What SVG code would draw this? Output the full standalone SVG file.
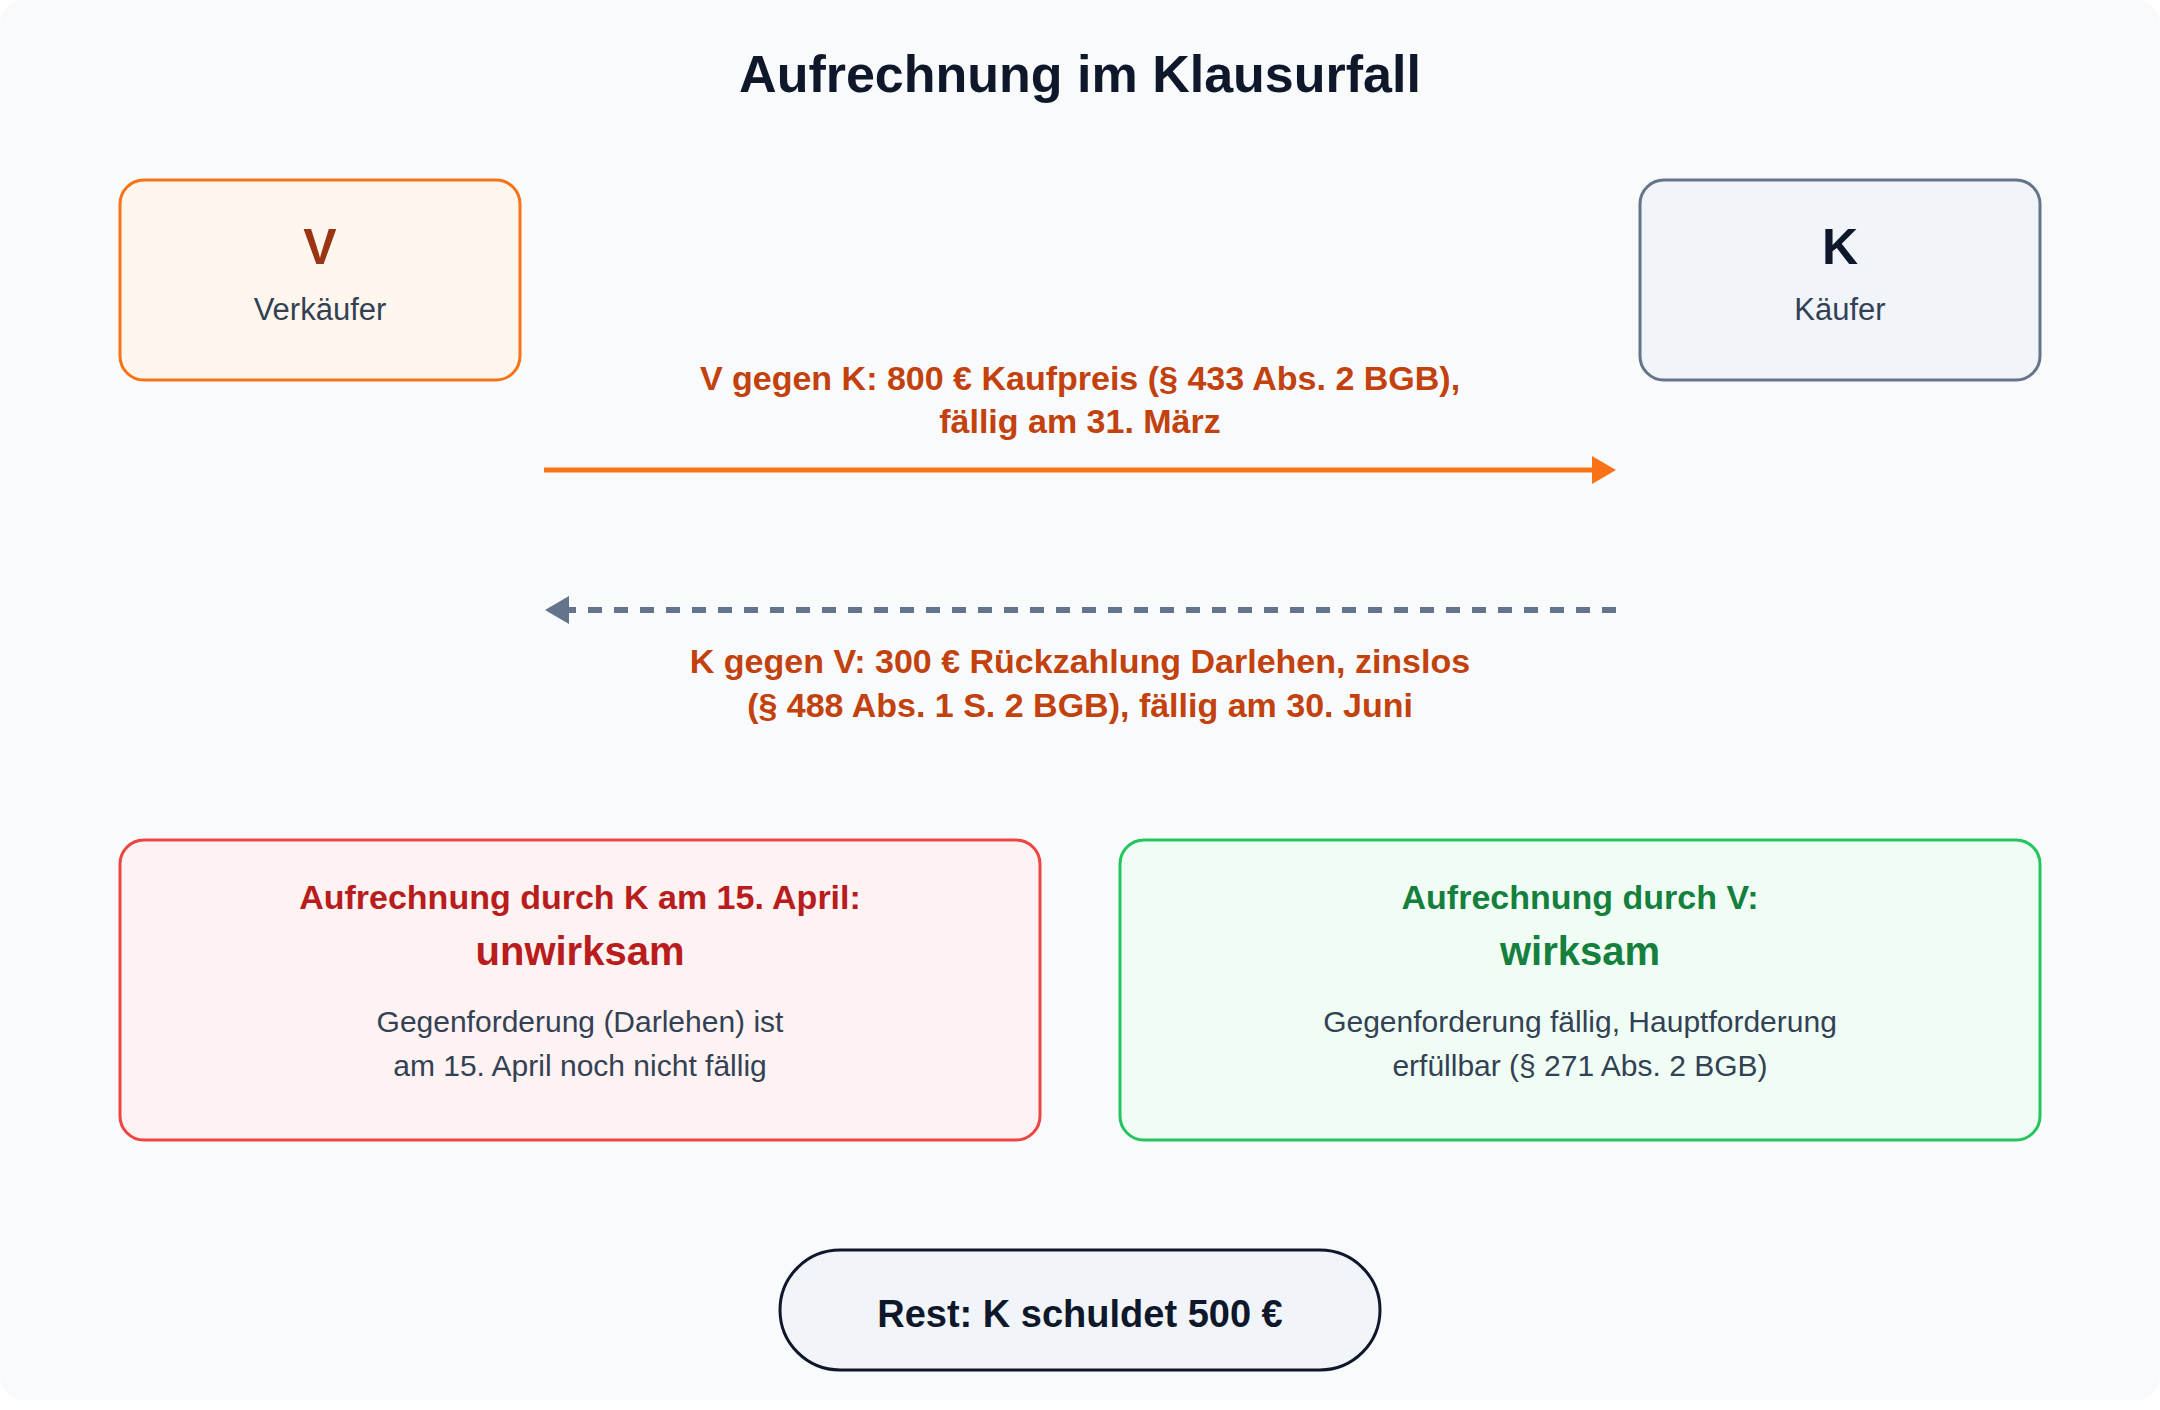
<svg xmlns="http://www.w3.org/2000/svg" width="2160" height="1410" viewBox="0 0 2160 1410">
  <style>
    text { font-family: "Liberation Sans", Arial, sans-serif; text-anchor: middle; }
    .title { font-size: 52px; font-weight: bold; fill: #0f172a; }
    .big { font-size: 50px; font-weight: bold; }
    .sub { font-size: 31px; fill: #334155; }
    .lbl { font-size: 34px; font-weight: bold; fill: #c2410c; }
    .head { font-size: 34px; font-weight: bold; }
    .verdict { font-size: 40px; font-weight: bold; }
    .body { font-size: 30px; fill: #334155; }
    .rest { font-size: 38px; font-weight: bold; fill: #0f172a; }
    .box { stroke-width: 3; }
  </style>
  <defs>
    <marker id="headOrange" markerUnits="userSpaceOnUse" markerWidth="24" markerHeight="28" viewBox="0 0 24 28" refX="1" refY="14" orient="auto">
      <path d="M0,0 L24,14 L0,28 z" fill="#f97316"/>
    </marker>
    <marker id="headSlate" markerUnits="userSpaceOnUse" markerWidth="24" markerHeight="28" viewBox="0 0 24 28" refX="1" refY="14" orient="auto">
      <path d="M0,0 L24,14 L0,28 z" fill="#64748b"/>
    </marker>
  </defs>

  <rect x="0" y="0" width="2160" height="1400" rx="24" fill="#f8fafc"/>
  <text class="title" x="1080" y="92">Aufrechnung im Klausurfall</text>

  <g id="node-V">
    <rect class="box" x="120" y="180" width="400" height="200" rx="24" fill="#fff7ed" stroke="#f97316"/>
    <text class="big" x="320" y="264" fill="#9a3412">V</text>
    <text class="sub" x="320" y="320">Verkäufer</text>
  </g>

  <g id="node-K">
    <rect class="box" x="1640" y="180" width="400" height="200" rx="24" fill="#f1f5f9" stroke="#64748b"/>
    <text class="big" x="1840" y="264" fill="#0f172a">K</text>
    <text class="sub" x="1840" y="320">Käufer</text>
  </g>

  <g id="connectors">
    <line x1="544" y1="470" x2="1593" y2="470" stroke="#f97316" stroke-width="5" marker-end="url(#headOrange)"/>
    <text class="lbl" x="1080" y="390">V gegen K: 800 € Kaufpreis (§ 433 Abs. 2 BGB),</text>
    <text class="lbl" x="1080" y="433">fällig am 31. März</text>

    <line x1="1616" y1="610" x2="568" y2="610" stroke="#64748b" stroke-width="6" stroke-dasharray="14 12" marker-end="url(#headSlate)"/>
    <text class="lbl" x="1080" y="673">K gegen V: 300 € Rückzahlung Darlehen, zinslos</text>
    <text class="lbl" x="1080" y="717">(§ 488 Abs. 1 S. 2 BGB), fällig am 30. Juni</text>
  </g>

  <g id="node-unwirksam">
    <rect class="box" x="120" y="840" width="920" height="300" rx="24" fill="#fef2f2" stroke="#ef4444"/>
    <text class="head" x="580" y="909" fill="#b91c1c">Aufrechnung durch K am 15. April:</text>
    <text class="verdict" x="580" y="965" fill="#b91c1c">unwirksam</text>
    <text class="body" x="580" y="1032">Gegenforderung (Darlehen) ist</text>
    <text class="body" x="580" y="1076">am 15. April noch nicht fällig</text>
  </g>

  <g id="node-wirksam">
    <rect class="box" x="1120" y="840" width="920" height="300" rx="24" fill="#f0fdf4" stroke="#22c55e"/>
    <text class="head" x="1580" y="909" fill="#15803d">Aufrechnung durch V:</text>
    <text class="verdict" x="1580" y="965" fill="#15803d">wirksam</text>
    <text class="body" x="1580" y="1032">Gegenforderung fällig, Hauptforderung</text>
    <text class="body" x="1580" y="1076">erfüllbar (§ 271 Abs. 2 BGB)</text>
  </g>

  <g id="node-rest">
    <rect class="box" x="780" y="1250" width="600" height="120" rx="60" fill="#f1f5f9" stroke="#0f172a"/>
    <text class="rest" x="1080" y="1327">Rest: K schuldet 500 €</text>
  </g>
</svg>
